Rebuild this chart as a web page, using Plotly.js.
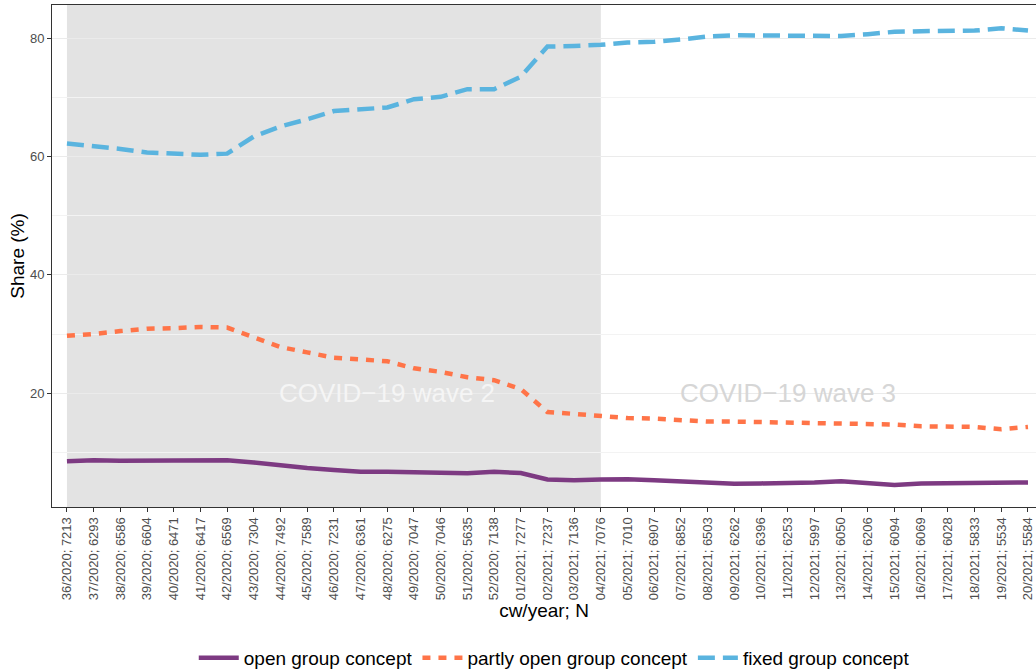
<!DOCTYPE html>
<html>
<head>
<meta charset="utf-8">
<script src="https://cdn.plot.ly/plotly-3.0.1.min.js"></script>
<style>html,body{margin:0;padding:0;background:#fff;overflow:hidden}</style>
</head>
<body>
<div id="chart" style="width:1036px;height:672px"></div>
<script>
const categories = [
  "36/2020; 7213","37/2020; 6293","38/2020; 6586","39/2020; 6604","40/2020; 6471","41/2020; 6417",
  "42/2020; 6569","43/2020; 7304","44/2020; 7492","45/2020; 7589","46/2020; 7231","47/2020; 6361",
  "48/2020; 6275","49/2020; 7047","50/2020; 7046","51/2020; 5635","52/2020; 7138","01/2021; 7277",
  "02/2021; 7237","03/2021; 7136","04/2021; 7076","05/2021; 7010","06/2021; 6907","07/2021; 6852",
  "08/2021; 6503","09/2021; 6262","10/2021; 6396","11/2021; 6253","12/2021; 5997","13/2021; 6050",
  "14/2021; 6206","15/2021; 6094","16/2021; 6069","17/2021; 6028","18/2021; 5833","19/2021; 5534",
  "20/2021; 5584"
];
const openGroup = [
  8.5,8.65,8.6,8.6,8.7,8.65,8.65,8.3,7.8,7.35,7.0,6.7,6.7,6.6,6.5,6.45,6.7,6.5,
  5.4,5.3,5.4,5.45,5.3,5.15,4.9,4.7,4.75,4.8,4.9,5.1,4.8,4.5,4.75,4.75,4.75,4.8,4.9
];
const partlyOpenGroup = [
  29.7,30.0,30.5,30.9,31.0,31.2,31.1,29.4,27.8,26.9,26.0,25.7,25.4,24.2,23.6,22.7,22.2,20.7,
  16.8,16.5,16.1,15.8,15.7,15.4,15.2,15.2,15.1,15.1,15.0,14.9,14.8,14.7,14.4,14.3,14.3,13.9,14.3
];
const fixedGroup = [
  62.2,61.8,61.3,60.7,60.5,60.3,60.5,63.4,65.1,66.3,67.7,68.0,68.3,69.7,70.1,71.4,71.4,73.5,
  78.6,78.7,78.9,79.3,79.4,79.8,80.3,80.5,80.5,80.4,80.4,80.4,80.7,81.1,81.2,81.3,81.3,81.7,81.3
];
const seriesNames = ["open group concept","partly open group concept","fixed group concept"];
const waveLabels = ["COVID\u221219 wave 2","COVID\u221219 wave 3"];
const waveStart = categories[0], waveEnd = categories[20];

const font = "Liberation Sans, Arial, sans-serif";
const traces = [
  {x: categories, y: openGroup, name: seriesNames[0], type: "scatter", mode: "lines",
   line: {color: "#7D3A82", width: 4.5, dash: "solid"}},
  {x: categories, y: partlyOpenGroup, name: seriesNames[1], type: "scatter", mode: "lines",
   line: {color: "#FF7448", width: 4.5, dash: "8px,8px"}},
  {x: categories, y: fixedGroup, name: seriesNames[2], type: "scatter", mode: "lines",
   line: {color: "#5AB4DF", width: 4.5, dash: "17px,8px"}}
];
const layout = {
  width: 1036, height: 672,
  margin: {l: 52, r: 0, t: 5, b: 165},
  paper_bgcolor: "#fff", plot_bgcolor: "#fff",
  font: {family: font, color: "#000"},
  showlegend: true,
  xaxis: {
    type: "category", categoryorder: "array", categoryarray: categories,
    range: [-0.56, 36.3], showgrid: false, zeroline: false, automargin: false,
    tickangle: -90, tickfont: {size: 13, color: "#4D4D4D", family: font},
    ticks: "outside", ticklen: 4, tickcolor: "#333", tickwidth: 1,
    showline: true, linecolor: "#333", linewidth: 1, mirror: true,
    title: {text: "cw/year; N", font: {size: 19, color: "#000", family: font}, standoff: 0}
  },
  yaxis: {
    range: [0.76, 85.63], tickvals: [20,40,60,80], ticktext: ["20","40","60","80"],
    showgrid: true, gridcolor: "#EBEBEB", gridwidth: 1, zeroline: false, automargin: false,
    minor: {tickvals: [10,30,50,70], showgrid: true, gridcolor: "#F3F3F3", gridwidth: 1, ticks: ""},
    tickfont: {size: 13, color: "#4D4D4D", family: font},
    ticks: "outside", ticklen: 4, tickcolor: "#333", tickwidth: 1,
    showline: true, linecolor: "#333", linewidth: 1, mirror: true,
    title: {text: "Share (%)", font: {size: 19, color: "#000", family: font}, standoff: 0}
  },
  shapes: [{
    type: "rect", xref: "x", yref: "paper", x0: waveStart, x1: waveEnd, y0: 0, y1: 1,
    fillcolor: "#E3E3E3", line: {width: 0}, layer: "below"
  }],
  annotations: [
    {x: categories[12], y: 20, xref: "x", yref: "y", text: waveLabels[0], showarrow: false,
     font: {size: 26, color: "#F5F5F5", family: font}, xanchor: "center", yanchor: "middle"},
    {x: categories[27], y: 20, xref: "x", yref: "y", text: waveLabels[1], showarrow: false,
     font: {size: 26, color: "#D6D6D6", family: font}, xanchor: "center", yanchor: "middle"}
  ],
  legend: {
    orientation: "h", xref: "container", yref: "container",
    x: 0.535, xanchor: "center", y: 0.021, yanchor: "middle",
    font: {size: 19, color: "#000", family: font}, itemwidth: 40, tracegroupgap: 0,
    bgcolor: "rgba(0,0,0,0)"
  }
};
Plotly.newPlot("chart", traces, layout, {displayModeBar: false, staticPlot: true});
</script>
</body>
</html>
